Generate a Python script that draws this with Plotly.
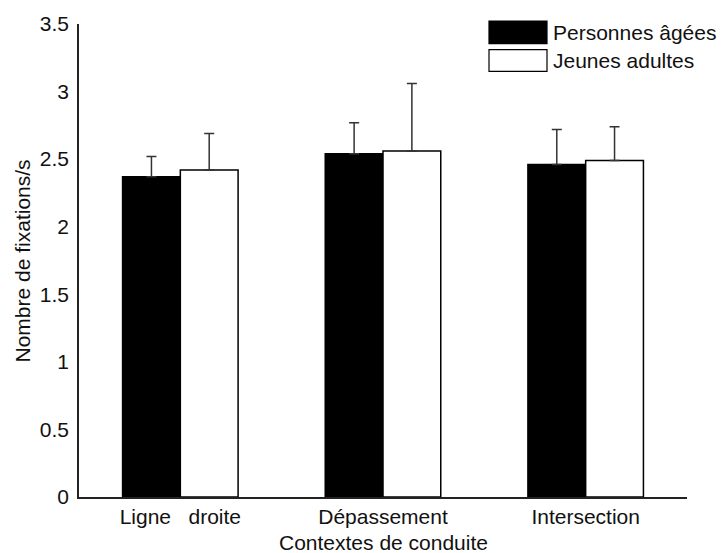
import plotly.graph_objects as go

# Driving contexts and fixation rates (fixations per second)
contexts = ["Ligne\u00a0\u00a0\u00a0droite", "Dépassement", "Intersection"]
positions = [1, 2, 3]

older_mean = [2.37, 2.54, 2.46]
older_err = [0.15, 0.23, 0.26]

young_mean = [2.42, 2.56, 2.49]
young_err = [0.27, 0.50, 0.25]

series_names = ["Personnes âgées", "Jeunes adultes"]
y_ticks = [0, 0.5, 1, 1.5, 2, 2.5, 3, 3.5]

FONT = "Liberation Sans, Arial, sans-serif"
FS = 21
bar_w = 0.285

fig = go.Figure()
fig.add_trace(go.Bar(
    x=[p - bar_w / 2 for p in positions], y=older_mean, width=bar_w,
    name=series_names[0], marker=dict(color="black", line=dict(color="black", width=1.5)),
    error_y=dict(type="data", array=older_err, arrayminus=[0] * 3, symmetric=False,
                 color="#333333", thickness=1.5, width=5),
    showlegend=False,
))
fig.add_trace(go.Bar(
    x=[p + bar_w / 2 for p in positions], y=young_mean, width=bar_w,
    name=series_names[1], marker=dict(color="white", line=dict(color="black", width=1.5)),
    error_y=dict(type="data", array=young_err, arrayminus=[0] * 3, symmetric=False,
                 color="#333333", thickness=1.5, width=5),
    showlegend=False,
))

# Legend drawn as boxes with labels
legend_fill = ["black", "white"]
box_x0, box_x1 = 489, 547
box_rows = [(14, 37), (43, 65)]
W, H = 723, 553
ml, mr, mt, mb = 79, 36, 17, 56
pw, ph = W - ml - mr, H - mt - mb


def px_to_paper(x, y):
    return (x - ml) / pw, 1 - (y - mt) / ph


for name, fill, (y0, y1) in zip(series_names, legend_fill, box_rows):
    xa, ya = px_to_paper(box_x0, y0)
    xb, yb = px_to_paper(box_x1, y1)
    fig.add_shape(type="rect", xref="paper", yref="paper", x0=xa, x1=xb, y0=yb, y1=ya,
                  fillcolor=fill, line=dict(color="black", width=1.2))
    tx, ty = px_to_paper(box_x1 + 4, (y0 + y1) / 2)
    fig.add_annotation(xref="paper", yref="paper", x=tx, y=ty, text=name, showarrow=False,
                       xanchor="left", yanchor="middle", font=dict(family=FONT, size=FS, color="#111111"))

# Axis titles, placed as text beside the axes
ax_x, ax_y = px_to_paper((ml + W - mr) / 2, 543)
fig.add_annotation(xref="paper", yref="paper", x=ax_x, y=ax_y, text="Contextes de conduite",
                   showarrow=False, xanchor="center", yanchor="middle",
                   font=dict(family=FONT, size=FS, color="#111111"))
ay_x, ay_y = px_to_paper(22, 258)
fig.add_annotation(xref="paper", yref="paper", x=ay_x, y=ay_y, text="Nombre de fixations/s",
                   showarrow=False, xanchor="center", yanchor="middle", textangle=-90,
                   font=dict(family=FONT, size=FS, color="#111111"))

fig.update_layout(
    width=W, height=H,
    margin=dict(l=ml, r=mr, t=mt, b=mb),
    paper_bgcolor="white", plot_bgcolor="white",
    font=dict(family=FONT, size=FS, color="#111111"),
    barmode="overlay",
    xaxis=dict(
        range=[0.5, 3.5], tickvals=positions, ticktext=contexts,
        showline=True, linecolor="#222222", linewidth=1.5, ticks="",
        showgrid=False, zeroline=False, ticklabelstandoff=0,
    ),
    yaxis=dict(
        range=[0, 3.5], tickvals=y_ticks, ticktext=[f"{v:g}" for v in y_ticks],
        showline=True, linecolor="#222222", linewidth=1.5, ticks="",
        showgrid=False, zeroline=False, ticklabelstandoff=4,
    ),
)

fig.write_html("out.html")
